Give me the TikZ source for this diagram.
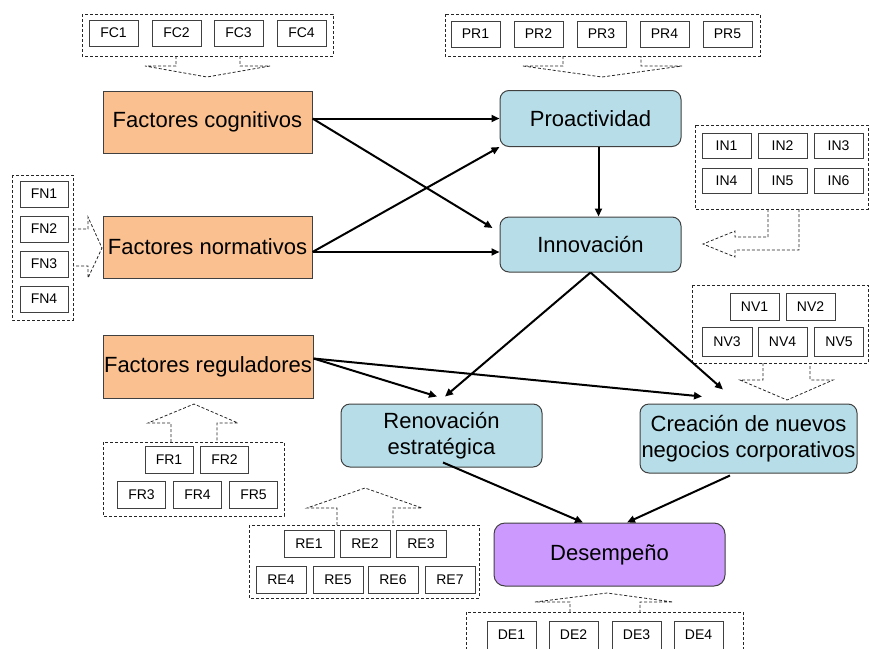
\documentclass[tikz,border=0pt]{standalone}
\usepackage{fontspec}
\setmainfont{Liberation Sans}
\usetikzlibrary{calc,arrows.meta}

\definecolor{factor}{RGB}{250,192,144}
\definecolor{dimension}{RGB}{183,222,232}
\definecolor{outcome}{RGB}{204,153,255}
\definecolor{edge}{RGB}{64,64,64}

\tikzset{
  mainbox/.style={draw=edge, line width=1pt, inner sep=0pt, align=center,
    font=\fontsize{22}{26}\selectfont},
  factorbox/.style={mainbox, fill=factor},
  dimbox/.style={mainbox, fill=dimension, rounded corners=9pt},
  outbox/.style={mainbox, fill=outcome, rounded corners=11pt},
  itembox/.style={draw=edge, line width=0.8pt, inner sep=0pt, fill=white,
    minimum width=49pt, minimum height=26pt, font=\fontsize{14}{15}\selectfont},
  groupline/.style={draw=black!85, line width=0.8pt, dash pattern=on 3pt off 2pt},
  conn/.style={draw=black, line width=2pt, -{Triangle[length=8pt,width=7pt]}},
}

\begin{document}
\begin{tikzpicture}[x=1pt, y=-1pt]
\useasboundingbox (0,0) rectangle (869,648);
\clip (0,0) rectangle (869,648);

% ---- main constructs ----
\node[factorbox, minimum width=209pt, minimum height=62pt] (fc) at (207.5,122) {Factores cognitivos};
\node[factorbox, minimum width=209pt, minimum height=62pt] (fn) at (207.5,247) {Factores normativos};
\node[factorbox, minimum width=210pt, minimum height=63pt] (fr) at (208,366.5) {Factores reguladores};
\node[dimbox, minimum width=181pt, minimum height=56pt] (pro) at (590.5,118.5) {Proactividad};
\node[dimbox, minimum width=181pt, minimum height=55pt] (inn) at (590.5,244.5) {Innovación};
\node[dimbox, minimum width=201pt, minimum height=63pt] (ren) at (441.5,435.5) {Renovación\\estratégica};
\node[dimbox, minimum width=217pt, minimum height=69pt] (cre) at (748.5,438.5) {Creación de nuevos\\negocios corporativos};
\node[outbox, minimum width=231pt, minimum height=63pt] (des) at (609.5,554.5) {Desempeño};

% ---- indicator groups (dashed frames) ----
\draw[groupline] (82,14) rectangle (333,56);
\draw[groupline] (445,14) rectangle (760,56);
\draw[groupline] (695,125) rectangle (868,209);
\draw[groupline] (12,175) rectangle (73,320);
\draw[groupline] (103,442) rectangle (284,516);
\draw[groupline] (249,525) rectangle (479,598);
\draw[groupline] (466,612) rectangle (743,660);
\draw[groupline] (692,285) rectangle (868,363);

% ---- dashed block arrows from groups to constructs ----
\draw[groupline] (176,56) -- (176,66) -- (145,66) -- (207,77) -- (270,66) -- (240,66) -- (240,56);
\draw[groupline] (563,56) -- (563,66) -- (523,66) -- (602,77) -- (682,66) -- (641,66) -- (641,56);
\draw[groupline] (768,209) -- (768,237) -- (735,237) -- (735,231) -- (703,244) -- (735,257) -- (735,250) -- (799,250) -- (799,209);
\draw[groupline] (73,229) -- (88,229) -- (88,217) -- (102,248) -- (88,278) -- (88,266) -- (73,266);
\draw[groupline] (171,442) -- (171,423) -- (148,423) -- (194,404) -- (238,423) -- (217,423) -- (217,442);
\draw[groupline] (337,525) -- (337,508) -- (307,508) -- (365,488) -- (422,508) -- (393,508) -- (393,525);
\draw[groupline] (570,612) -- (570,602) -- (535,602) -- (607,593) -- (673,602) -- (640,602) -- (640,612);
\draw[groupline] (763,363) -- (763,380) -- (740,380) -- (787,400) -- (833,380) -- (810,380) -- (810,363);

% ---- indicators ----
\node[itembox] (fc1) at (113.5,33) {FC1};
\node[itembox] (fc2) at (176.5,33) {FC2};
\node[itembox] (fc3) at (238.5,33) {FC3};
\node[itembox] (fc4) at (301.5,33) {FC4};

\node[itembox] (pr1) at (475.5,34) {PR1};
\node[itembox] (pr2) at (538.5,34) {PR2};
\node[itembox] (pr3) at (601.5,34) {PR3};
\node[itembox] (pr4) at (664.5,34) {PR4};
\node[itembox] (pr5) at (727.5,34) {PR5};

\node[itembox, minimum height=25pt] (in1) at (726.5,145.5) {IN1};
\node[itembox, minimum height=25pt] (in2) at (782.5,145.5) {IN2};
\node[itembox, minimum height=25pt] (in3) at (838.5,145.5) {IN3};
\node[itembox, minimum height=25pt] (in4) at (726.5,180.5) {IN4};
\node[itembox, minimum height=25pt] (in5) at (782.5,180.5) {IN5};
\node[itembox, minimum height=25pt] (in6) at (838.5,180.5) {IN6};

\node[itembox, minimum width=48pt] (fn1) at (44,194) {FN1};
\node[itembox, minimum width=48pt] (fn2) at (44,229) {FN2};
\node[itembox, minimum width=48pt] (fn3) at (44,264) {FN3};
\node[itembox, minimum width=48pt] (fn4) at (44,299) {FN4};

\node[itembox, minimum width=48pt, minimum height=27pt] (fr1) at (169,459.5) {FR1};
\node[itembox, minimum width=48pt, minimum height=27pt] (fr2) at (224.5,459.5) {FR2};
\node[itembox, minimum width=48pt, minimum height=27pt] (fr3) at (141.5,494.5) {FR3};
\node[itembox, minimum width=48pt, minimum height=27pt] (fr4) at (197.5,494.5) {FR4};
\node[itembox, minimum width=48pt, minimum height=27pt] (fr5) at (253.5,494.5) {FR5};

\node[itembox, minimum width=50pt, minimum height=27pt] (re1) at (309,543.5) {RE1};
\node[itembox, minimum width=50pt, minimum height=27pt] (re2) at (365,543.5) {RE2};
\node[itembox, minimum width=50pt, minimum height=27pt] (re3) at (421,543.5) {RE3};
\node[itembox, minimum width=50pt, minimum height=27pt] (re4) at (281,579.5) {RE4};
\node[itembox, minimum width=50pt, minimum height=27pt] (re5) at (338,579.5) {RE5};
\node[itembox, minimum width=50pt, minimum height=27pt] (re6) at (393,579.5) {RE6};
\node[itembox, minimum width=50pt, minimum height=27pt] (re7) at (450,579.5) {RE7};

\node[itembox, minimum height=28pt] (de1) at (511.5,635) {DE1};
\node[itembox, minimum height=28pt] (de2) at (573.5,635) {DE2};
\node[itembox, minimum height=28pt] (de3) at (636.5,635) {DE3};
\node[itembox, minimum height=28pt] (de4) at (698.5,635) {DE4};

\node[itembox, minimum height=27pt] (nv1) at (754.5,306.5) {NV1};
\node[itembox, minimum height=27pt] (nv2) at (810.5,306.5) {NV2};
\node[itembox, minimum width=50pt, minimum height=29pt] (nv3) at (727,342) {NV3};
\node[itembox, minimum height=29pt] (nv4) at (782.5,342) {NV4};
\node[itembox, minimum height=29pt] (nv5) at (839,342) {NV5};

% ---- relations ----
\coordinate (fcout) at (fc.east |- pro.west);
\coordinate (fnout) at ($(fn.east)+(0,5)$);
\coordinate (frout) at ($(fr.east)+(0,-8)$);
\coordinate (proout) at ($(pro.south)+(8,0)$);

\draw[conn] (fcout) -- (pro.west);
\draw[conn] (fcout) -- ($(inn.west)+(-7,-16.5)$);
\draw[conn] (fnout) -- (pro.south west);
\draw[conn] (fnout) -- (fnout -| inn.west);
\draw[conn] (proout) -- (proout |- inn.north);
\draw[conn] (inn.south) -- ($(ren.north)+(3.5,-7)$);
\draw[conn] (inn.south) -- ($(cre.north)+(-25.5,-14)$);
\draw[conn] (frout) -- ($(ren.north)+(-4.5,-7)$);
\draw[conn] (frout) -- ($(cre.north)+(-46.5,-7)$);
\draw[conn] ($(ren.south)+(1.5,-5)$) -- ($(des.north)+(-26.5,0)$);
\draw[conn] ($(cre.south)+(-18.5,2)$) -- ($(des.north)+(17.5,0)$);
\end{tikzpicture}
\end{document}
